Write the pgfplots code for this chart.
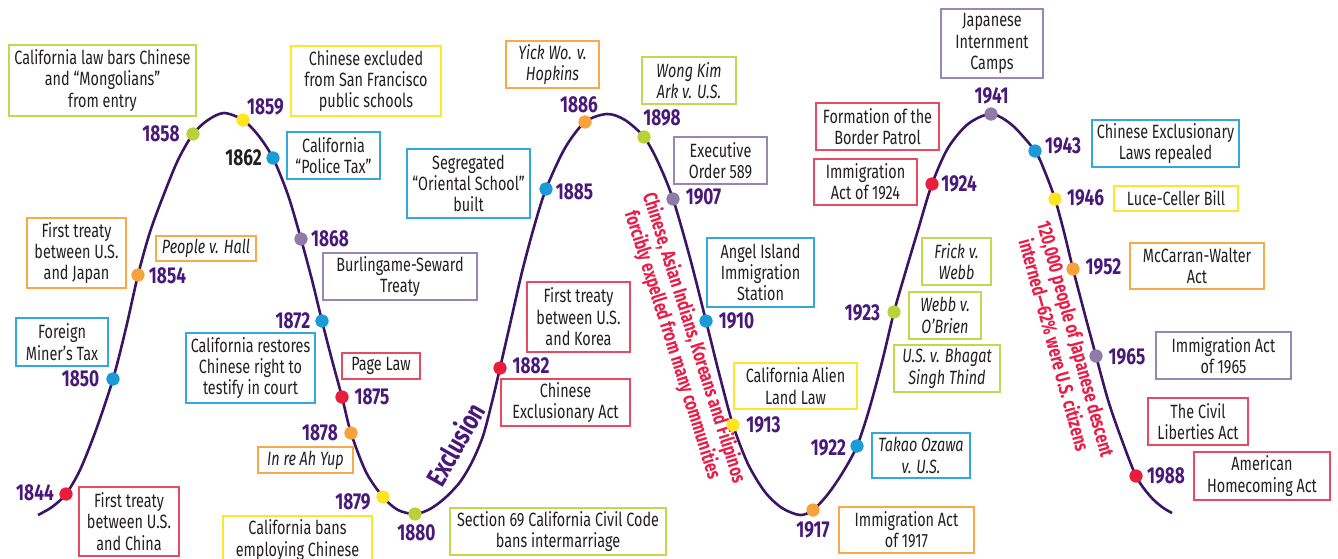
\documentclass[border=0pt]{standalone}
\usepackage{fontspec}
\setmainfont{Fira Sans}[FakeStretch=0.75]
\usepackage{pgfplots}
\pgfplotsset{compat=1.18}
\definecolor{curvec}{HTML}{3B1464}
\definecolor{yrc}{HTML}{48197A}
\definecolor{txt}{HTML}{231F20}
\definecolor{cred}{HTML}{E81E3C}
\definecolor{cblue}{HTML}{1A9BD7}
\definecolor{corange}{HTML}{F7A23A}
\definecolor{cygreen}{HTML}{BAD23A}
\definecolor{cyellow}{HTML}{FDE51F}
\definecolor{cpurple}{HTML}{8E7BAA}
\definecolor{bred}{HTML}{E94A63}
\definecolor{bblue}{HTML}{33A8DE}
\definecolor{borange}{HTML}{F8AA4B}
\definecolor{bygreen}{HTML}{C2D94F}
\definecolor{byellow}{HTML}{FDE62E}
\definecolor{bpurple}{HTML}{9A86B5}
\definecolor{redtext}{HTML}{E81D48}
\newcommand{\bfnt}{\fontsize{9.6}{10.7}\selectfont}
\newcommand{\yfnt}{\fontsize{11.5}{12}\selectfont\bfseries}
\newcommand{\bx}[7][]{\node[draw=#6, line width=0.75pt, minimum width=#4*0.5pt, minimum height=#5*0.5pt, inner sep=0pt, align=center, text=txt, font=\bfnt, #1] at (axis cs:#2,#3) {#7};}
\newcommand{\yr}[3][yrc]{\node[text=#1, font=\yfnt, inner sep=0pt] at (axis cs:#2) {#3};}
\begin{document}
\begin{tikzpicture}
\begin{axis}[x=0.5pt, y=0.5pt, y dir=reverse, xmin=0, xmax=1338, ymin=0, ymax=558, hide axis, clip=false]
% the wave
\addplot[curvec, line width=1.3pt, smooth, mark=none] coordinates {
(38,515) (52,507) (66,494) (80,470) (96,430) (113,379) (126,328) (138,275) (150,232) (164,194) (178,160) (193,134) (208,120) (224,113)
(243,120) (258,135) (273,158) (288,195) (301,239) (312,280) (322,321) (332,360) (342,397) (351,433) (366,472) (383,497) (398,510) (415,514)
(430,509) (445,498) (460,482) (472,462) (483,436) (492,402) (500,368) (511,320) (522,272) (534,227) (546,189) (565,148) (585,122) (607,114)
(625,120) (644,137) (658,162) (673,199) (690,258) (706,321) (720,377) (733,425) (748,464) (765,492) (782,508) (800,515)
(813,510) (828,494) (843,472) (857,446) (869,410) (882,362) (894,312) (904,277) (918,230) (932,184) (948,148) (968,124) (991,114)
(1012,125) (1035,151) (1045,172) (1055,199) (1064,232) (1073,269) (1085,315) (1096,356) (1108,400) (1120,435) (1136,476) (1150,496) (1162,507) (1172,513)
};
% dots
\addplot[only marks, mark=*, mark size=3.1pt, cred] coordinates {(66,494) (342,397) (500,368) (932,184) (1136,476)};
\addplot[only marks, mark=*, mark size=3.1pt, cblue] coordinates {(113,379) (273,158) (322,321) (546,189) (706,321) (857,446) (1035,151)};
\addplot[only marks, mark=*, mark size=3.1pt, corange] coordinates {(138,275) (351,433) (585,122) (813,510) (1073,269)};
\addplot[only marks, mark=*, mark size=3.1pt, cygreen] coordinates {(193,134) (415,514) (644,137) (894,312)};
\addplot[only marks, mark=*, mark size=3.1pt, cyellow] coordinates {(243,120) (383,497) (733,425) (1055,199)};
\addplot[only marks, mark=*, mark size=3.1pt, cpurple] coordinates {(301,239) (673,199) (991,114) (1096,356)};
% years
\yr{35,493}{1844}
\yr{80.5,379}{1850}
\yr{167.5,276}{1854}
\yr{161,134}{1858}
\yr{265.5,107}{1859}
\yr[txt]{243.5,158}{1862}
\yr{330,239}{1868}
\yr{293,321}{1872}
\yr{372,397}{1875}
\yr{320,433}{1878}
\yr{353,502}{1879}
\yr{416.5,533}{1880}
\yr{531,366}{1882}
\yr{574.5,192}{1885}
\yr{579,105}{1886}
\yr{662,118}{1898}
\yr{703.5,197}{1907}
\yr{736.5,321}{1910}
\yr{763.5,425}{1913}
\yr{813,530}{1917}
\yr{828.5,448}{1922}
\yr{862.5,313}{1923}
\yr{959,184}{1924}
\yr{991.5,96}{1941}
\yr{1063,146}{1943}
\yr{1085.5,198}{1946}
\yr{1103.5,267}{1952}
\yr{1127,357}{1965}
\yr{1166,476}{1988}
% boxes
\bx{102.5}{80.5}{187}{71}{bygreen}{California law bars Chinese\\and ``Mongolians''\\from entry}
\bx{366}{81}{150}{70}{byellow}{Chinese excluded\\from San Francisco\\public schools}
\bx{333.5}{155.5}{93}{47}{bblue}{California\\``Police Tax''}
\bx{76.5}{253}{99}{70}{borange}{First treaty\\between U.S.\\and Japan}
\bx[font=\bfnt\itshape]{206}{248.5}{100}{25}{borange}{People v. Hall}
\bx{400}{276.5}{154}{47}{bpurple}{Burlingame-Seward\\Treaty}
\bx{62}{342}{92}{48}{bblue}{Foreign\\Miner’s Tax}
\bx{250.5}{368}{129}{70}{bblue}{California restores\\Chinese right to\\testify in court}
\bx{381}{366}{78}{26}{bred}{Page Law}
\bx[font=\bfnt\itshape]{305.5}{460}{95}{26}{borange}{In re Ah Yup}
\bx{129}{521.5}{100}{69}{bred}{First treaty\\between U.S.\\and China}
\bx{297.5}{540}{149}{48}{byellow}{California bans\\employing Chinese}
\bx{468.5}{183.5}{123}{69}{bblue}{Segregated\\``Oriental School''\\built}
\bx[font=\bfnt\itshape]{552.5}{64.5}{93}{47}{borange}{Yick Wo. v.\\Hopkins}
\bx[font=\bfnt\itshape]{689}{80.5}{94}{47}{bygreen}{Wong Kim\\Ark v. U.S.}
\bx{720.5}{160.5}{93}{47}{bpurple}{Executive\\Order 589}
\bx{578.5}{317}{103}{70}{bred}{First treaty\\between U.S.\\and Korea}
\bx{565.5}{402.5}{129}{47}{bred}{Chinese\\Exclusionary Act}
\bx{558}{531.5}{216}{47}{bygreen}{Section 69 California Civil Code\\bans intermarriage}
\bx{760.5}{272.5}{107}{69}{bblue}{Angel Island\\Immigration\\Station}
\bx{795.5}{386}{123}{46}{byellow}{California Alien\\Land Law}
\bx{877.5}{126.5}{123}{47}{bred}{Formation of the\\Border Patrol}
\bx{865.5}{182}{103}{46}{bred}{Immigration\\Act of 1924}
\bx{992}{43.5}{102}{69}{bpurple}{Japanese\\Internment\\Camps}
\bx{1165.5}{143.5}{147}{47}{bblue}{Chinese Exclusionary\\Laws repealed}
\bx{1176}{198.5}{124}{25}{byellow}{Luce-Celler Bill}
\bx{1197}{266}{134}{46}{borange}{McCarran-Walter\\Act}
\bx[font=\bfnt\itshape]{956.5}{261.5}{69}{47}{bygreen}{Frick v.\\Webb}
\bx[font=\bfnt\itshape]{945}{315.5}{72}{47}{bygreen}{Webb v.\\O’Brien}
\bx[font=\bfnt\itshape]{947}{368.5}{106}{47}{bygreen}{U.S. v. Bhagat\\Singh Thind}
\bx[font=\bfnt\itshape]{921}{455.5}{98}{45}{bblue}{Takao Ozawa\\v. U.S.}
\bx{906.5}{530}{135}{46}{borange}{Immigration Act\\of 1917}
\bx{1223.5}{355.5}{135}{47}{bpurple}{Immigration Act\\of 1965}
\bx{1198}{421.5}{100}{47}{bred}{The Civil\\Liberties Act}
\bx{1262}{476}{136}{48}{bred}{American\\Homecoming Act}
% rotated texts
\node[rotate=60, text=yrc, font=\fontsize{13.9}{15}\selectfont\bfseries, inner sep=0pt] at (axis cs:455,444) {Exclusion};
\node[rotate=-72.5, text=redtext, font=\fontsize{9.9}{10}\selectfont\bfseries, inner sep=0pt, align=center] at (axis cs:683,341.5) {Chinese, Asian Indians, Koreans and Filipinos\\forcibly expelled from many communities};
\node[rotate=-74.7, text=redtext, font=\fontsize{9.9}{10}\selectfont\bfseries, inner sep=0pt, align=center] at (axis cs:1065,342) {120,000 people of Japanese descent\\interned---62\% were U.S. citizens};
\coordinate (TL) at (axis cs:0,0);
\coordinate (BR) at (axis cs:1338,558);
\end{axis}
\pgfresetboundingbox
\useasboundingbox (TL) rectangle (BR);
\end{tikzpicture}
\end{document}
